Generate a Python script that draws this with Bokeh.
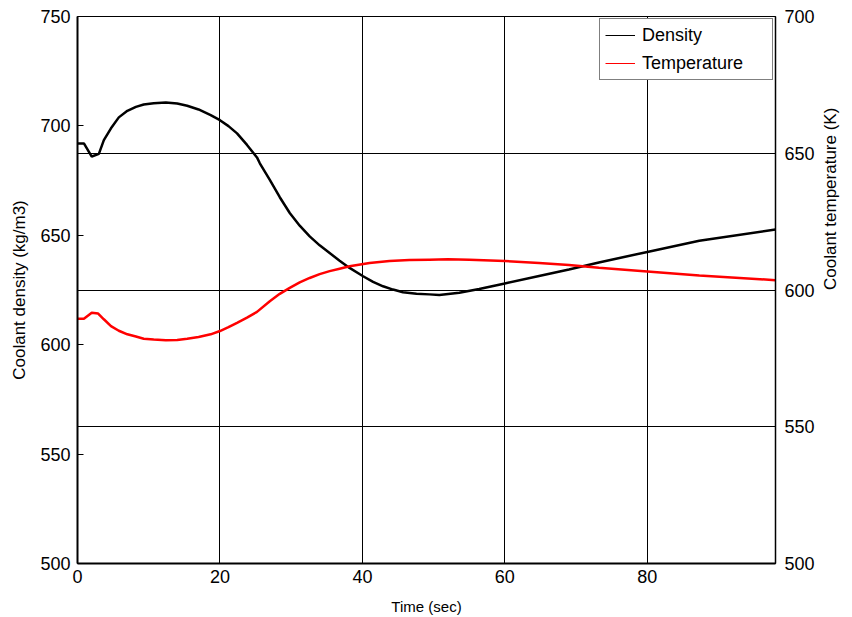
import math

from bokeh.plotting import figure
from bokeh.models import Range1d, LinearAxis, FixedTicker, Grid, Legend, LegendItem
from bokeh.embed import file_html
from bokeh.resources import INLINE

# Coolant density transient (left axis, kg/m3)
time_density = [0, 0.9, 2.0, 3.0, 3.7, 4.7, 5.8, 7.0, 8.2, 9.3, 10.7, 12.4, 14.0, 15.4,
                17.0, 18.7, 20.0, 21.2, 22.4, 23.8, 25.2, 25.6, 27.0, 28.4, 29.8, 31.2,
                32.6, 34.0, 35.4, 36.8, 38.2, 40.1, 41.5, 42.9, 44.3, 45.7, 47.6, 49.4,
                50.8, 53.6, 56.4, 60.0, 64.8, 69.0, 73.2, 80.0, 87.3, 98.0]
density = [692.0, 692.0, 686.0, 687.2, 693.5, 698.9, 703.9, 706.9, 708.7, 709.8, 710.4,
           710.7, 710.2, 709.2, 707.5, 704.9, 702.6, 699.9, 696.6, 691.3, 685.6, 682.9,
           675.3, 667.4, 660.2, 654.4, 649.5, 645.4, 641.9, 638.4, 635.1, 631.3, 628.7,
           626.7, 625.2, 624.0, 623.3, 623.0, 622.7, 623.7, 625.5, 628.0, 631.4, 634.4,
           637.6, 642.4, 647.5, 652.6]

# Coolant temperature transient (right axis, K)
time_temp = [0, 0.9, 2.0, 2.9, 3.7, 4.7, 5.8, 7.0, 8.2, 9.3, 10.7, 12.4, 14.0, 15.4, 17.0,
             18.7, 20.0, 21.2, 22.4, 23.8, 25.2, 27.0, 28.4, 29.8, 31.2, 32.6, 34.0, 35.4,
             36.8, 38.2, 41.0, 43.8, 46.6, 49.4, 52.0, 55.0, 60.0, 64.8, 69.0, 73.2, 80.0,
             87.3, 98.0]
temperature = [589.5, 589.5, 591.7, 591.4, 589.3, 586.8, 585.1, 583.8, 583.0, 582.2,
               581.9, 581.6, 581.7, 582.2, 582.8, 583.8, 585.0, 586.4, 588.0, 589.9,
               592.0, 595.9, 598.6, 600.8, 602.8, 604.4, 605.8, 606.9, 607.8, 608.7,
               609.9, 610.6, 611.0, 611.1, 611.2, 611.1, 610.6, 609.9, 609.1, 608.1,
               606.8, 605.3, 603.6]

x_ticks = [0, 20, 40, 60, 80]
density_ticks = [500, 550, 600, 650, 700, 750]
temp_ticks = [500, 550, 600, 650, 700]
temp_grid = [550, 600, 650]

FONT = "Liberation Sans"

p = figure(width=852, height=617, output_backend="svg", toolbar_location=None,
           x_range=Range1d(0, 98), y_range=Range1d(500, 750),
           min_border_left=77, min_border_right=76, min_border_top=16,
           min_border_bottom=52)
p.background_fill_color = "white"
p.border_fill_color = "white"
p.outline_line_color = "black"
p.outline_line_width = 1

p.extra_y_ranges = {"temp": Range1d(500, 700)}

# grid: vertical lines at time ticks, horizontal lines at temperature ticks
p.xgrid.ticker = FixedTicker(ticks=[20, 40, 60, 80])
p.xgrid.grid_line_color = "black"
p.xgrid.grid_line_width = 1
p.ygrid.visible = False
p.add_layout(Grid(dimension=1, ticker=FixedTicker(ticks=temp_grid), y_range_name="temp",
                  grid_line_color="black", grid_line_width=1))

def style_axis(ax, ticks, label, label_size, standoff, label_standoff, width):
    ax.ticker = FixedTicker(ticks=ticks)
    ax.axis_label = label
    ax.axis_label_text_font = FONT
    ax.axis_label_text_font_style = "normal"
    ax.axis_label_text_font_size = label_size
    ax.axis_label_text_color = "black"
    ax.axis_label_standoff = label_standoff
    ax.major_label_text_font = FONT
    ax.major_label_text_font_size = "18px"
    ax.major_label_text_color = "black"
    ax.major_label_standoff = standoff
    ax.major_tick_in = 6
    ax.major_tick_out = 0
    ax.major_tick_line_color = "black"
    ax.minor_tick_line_color = None
    ax.axis_line_color = "black"
    ax.axis_line_width = width

style_axis(p.xaxis[0], x_ticks, "Time (sec)", "15px", 6, 12, 2)
style_axis(p.yaxis[0], density_ticks, "Coolant density (kg/m3)", "17px", 7, 8, 2)

right_axis = LinearAxis(y_range_name="temp")
style_axis(right_axis, temp_ticks, "Coolant temperature (K)", "17px", 9, 13, 1.5)
# title reads bottom-to-top, like the left one
right_axis.axis_label_orientation = math.pi / 2
p.add_layout(right_axis, "right")

p.line(time_density, density, line_color="black", line_width=2.5)
p.line(time_temp, temperature, line_color="red", line_width=2.5, y_range_name="temp")

# thin legend swatches (their data lies outside the visible ranges)
dens_key = p.line([-20, -10], [0, 0], line_color="black", line_width=1)
temp_key = p.line([-20, -10], [0, 0], line_color="red", line_width=1, y_range_name="temp")

legend = Legend(items=[LegendItem(label="Density", renderers=[dens_key]),
                       LegendItem(label="Temperature", renderers=[temp_key])],
                location="top_right")
legend.label_text_font = FONT
legend.label_text_font_size = "18px"
legend.label_text_color = "black"
legend.glyph_width = 30
legend.glyph_height = 22
legend.label_height = 22
legend.label_width = 125
legend.label_standoff = 7
legend.spacing = 6
legend.padding = 5
legend.margin = 2
legend.border_line_color = "black"
legend.border_line_width = 1.5
legend.background_fill_color = "white"
legend.background_fill_alpha = 1
p.add_layout(legend)

open("out.html", "w").write(file_html(p, INLINE))
